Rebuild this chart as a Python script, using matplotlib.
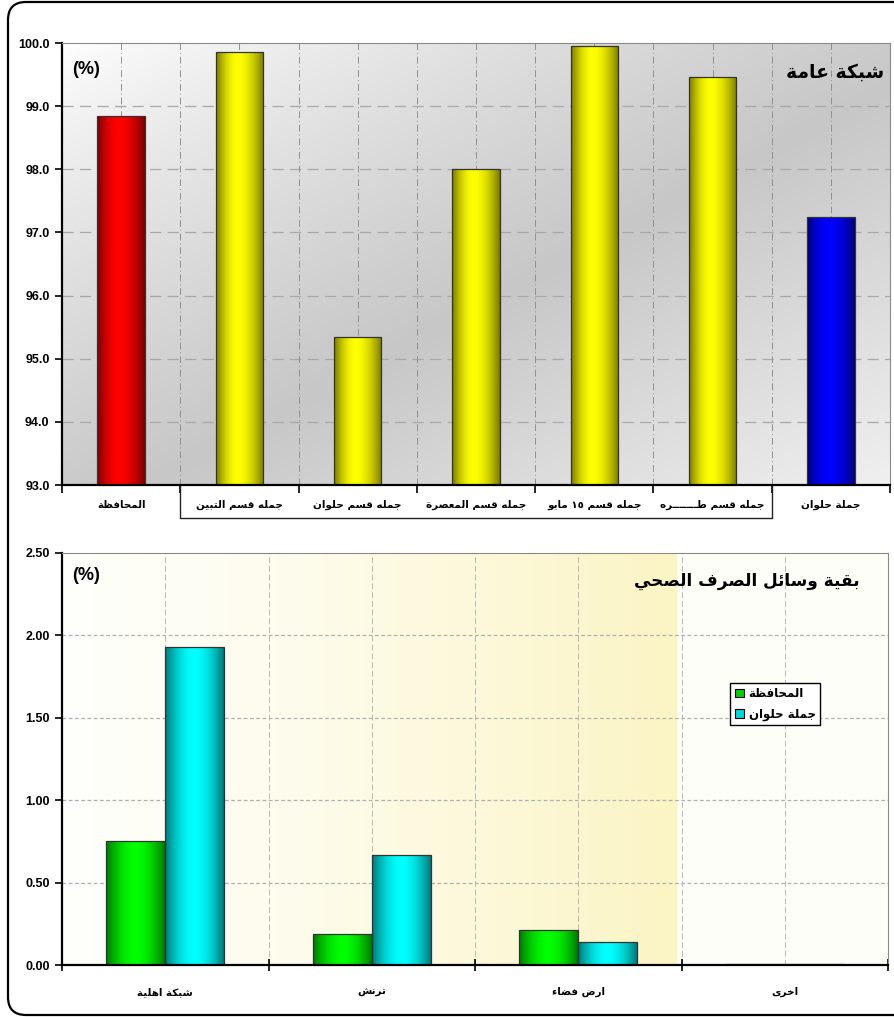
import numpy as np
import matplotlib
matplotlib.use("Agg")
import matplotlib.pyplot as plt
from matplotlib.patches import FancyBboxPatch, Patch
from matplotlib.lines import Line2D
from matplotlib.colors import to_rgb
import matplotlib.transforms as mtransforms

# ---------------- data ----------------
top_categories = ['المحافظة', 'جمله قسم التبين', 'جمله قسم حلوان', 'جمله قسم المعصرة',
                  'جمله قسم ١٥ مايو', 'جمله قسم طـــــــره', 'جملة حلوان']
top_values = [98.84, 99.86, 95.34, 98.00, 99.95, 99.46, 97.24]
top_title = 'شبكة عامة'

bottom_categories = ['شبكة اهلية', 'ترنش', 'ارض فضاء', 'اخرى']
series_names = ['المحافظة', 'جملة حلوان']
gov_values = [0.75, 0.19, 0.21, 0.008]
helwan_values = [1.93, 0.67, 0.14, 0.008]
bottom_title = 'بقية وسائل الصرف الصحي'

# ---------------- Arabic shaping ----------------
_DUAL_BASE = {'ئ': 0xFE89, 'ب': 0xFE8F, 'ت': 0xFE95, 'ث': 0xFE99, 'ج': 0xFE9D, 'ح': 0xFEA1,
              'خ': 0xFEA5, 'س': 0xFEB1, 'ش': 0xFEB5, 'ص': 0xFEB9, 'ض': 0xFEBD, 'ط': 0xFEC1,
              'ظ': 0xFEC5, 'ع': 0xFEC9, 'غ': 0xFECD, 'ف': 0xFED1, 'ق': 0xFED5, 'ك': 0xFED9,
              'ل': 0xFEDD, 'م': 0xFEE1, 'ن': 0xFEE5, 'ه': 0xFEE9, 'ي': 0xFEF1}
_RIGHT_BASE = {'آ': 0xFE81, 'أ': 0xFE83, 'ؤ': 0xFE85, 'إ': 0xFE87, 'ا': 0xFE8D, 'ة': 0xFE93,
               'د': 0xFEA9, 'ذ': 0xFEAB, 'ر': 0xFEAD, 'ز': 0xFEAF, 'و': 0xFEED, 'ى': 0xFEEF}
_LAMALEF = {'آ': 0xFEF5, 'أ': 0xFEF7, 'إ': 0xFEF9, 'ا': 0xFEFB}
TATWEEL = 'ـ'
DIGITS = set('0123456789٠١٢٣٤٥٦٧٨٩')


def shape(s):
    units = []
    i = 0
    while i < len(s):
        c = s[i]
        if c == 'ل' and i + 1 < len(s) and s[i + 1] in _LAMALEF:
            units.append(('LA', s[i + 1]))
            i += 2
        else:
            units.append(c)
            i += 1

    def jt(u):
        if isinstance(u, tuple):
            return 'R'
        if u in _DUAL_BASE or u == TATWEEL:
            return 'D'
        if u in _RIGHT_BASE:
            return 'R'
        return 'U'

    out = []
    n = len(units)
    for k, u in enumerate(units):
        t = jt(u)
        pj = k > 0 and jt(units[k - 1]) == 'D' and t in ('D', 'R')
        nj = t == 'D' and k + 1 < n and jt(units[k + 1]) in ('D', 'R')
        if isinstance(u, tuple):
            out.append(chr(_LAMALEF[u[1]] + (1 if pj else 0)))
        elif u == TATWEEL:
            out.append(u)
        elif u in _DUAL_BASE:
            b = _DUAL_BASE[u]
            if pj and nj:
                out.append(chr(b + 3))
            elif pj:
                out.append(chr(b + 1))
            elif nj:
                out.append(chr(b + 2))
            else:
                out.append(chr(b))
        elif u in _RIGHT_BASE:
            out.append(chr(_RIGHT_BASE[u] + (1 if pj else 0)))
        else:
            out.append(u)
    return ''.join(out)


def ar(s):
    shaped = shape(s)
    runs = []
    for ch in shaped:
        isd = ch in DIGITS
        if runs and runs[-1][0] == isd:
            runs[-1][1].append(ch)
        else:
            runs.append([isd, [ch]])
    res = []
    for isd, chars in reversed(runs):
        res.append(''.join(chars) if isd else ''.join(reversed(chars)))
    return ''.join(res)


# ---------------- style ----------------
plt.rcParams['font.family'] = ['Liberation Sans', 'DejaVu Sans']
plt.rcParams['font.weight'] = 'bold'
AR_FONT = ['DejaVu Sans']


def gradient_bars(ax, bars, dark, bright, peak=0.45):
    d = np.array(to_rgb(dark))
    b = np.array(to_rgb(bright))
    t = np.linspace(0, 1, 64)
    s = 1 - np.clip(np.abs(t - peak) / np.where(t < peak, peak, 1 - peak), 0, 1) ** 1.8
    img = (d[None, :] * (1 - s[:, None]) + b[None, :] * s[:, None])[None, :, :]
    ylo, yhi = ax.get_ylim()
    for bar in bars:
        x0 = bar.get_x()
        w = bar.get_width()
        y0 = max(bar.get_y(), ylo)
        y1 = min(bar.get_y() + bar.get_height(), yhi)
        if y1 <= y0:
            continue
        im = ax.imshow(img, extent=[x0, x0 + w, y0, y1], aspect='auto',
                       interpolation='bilinear', zorder=2.1, origin='lower')
        im.set_clip_path(bar)


fig = plt.figure(figsize=(8.94, 10.17), dpi=100)

# outer rounded frame (pixel coordinates)
frame = FancyBboxPatch((8, 2), 920, 1013, boxstyle='round,pad=0,rounding_size=18',
                       transform=mtransforms.IdentityTransform(), fill=False,
                       edgecolor='black', linewidth=1.6)
fig.patches.append(frame)

# ================= top chart =================
ax1 = fig.add_axes([62 / 894, 1 - 485 / 1017, 828 / 894, 442 / 1017])
ax1.patch.set_alpha(0)
uu, vv = np.meshgrid(np.linspace(0, 1, 200), np.linspace(0, 1, 200))
dd = (uu + vv) / 2  # 0 at top-left, 1 at bottom-right
g = np.where(dd < 0.55, 1.0 - (dd / 0.55) ** 0.8 * 0.22, 0.78 + (dd - 0.55) / 0.45 * 0.16)
bg = np.dstack([g, g, g])
ax1.imshow(bg, extent=[0, 1, 0, 1], transform=ax1.transAxes, aspect='auto',
           zorder=0, origin='upper', interpolation='bilinear')

x1 = np.arange(len(top_categories))
ax1.set_xlim(-0.5, len(top_categories) - 0.5)
ax1.set_ylim(93, 100)
top_colors = ['#ff0000'] + ['#ffff00'] * 5 + ['#0000ff']
bars1 = ax1.bar(x1, top_values, width=0.4, color=top_colors, zorder=2)
gradient_bars(ax1, [bars1[0]], '#7a0000', '#ff0000')
gradient_bars(ax1, list(bars1[1:6]), '#7a7a00', '#ffff00')
gradient_bars(ax1, [bars1[6]], '#00007a', '#0000ff')
ax1.bar(x1, top_values, width=0.4, fill=False, edgecolor='#333333', linewidth=0.9, zorder=2.3)

ax1.set_xlim(-0.5, len(top_categories) - 0.5)
ax1.set_ylim(93, 100)
ax1.set_yticks(np.arange(93, 100.01, 1.0))
ax1.yaxis.set_major_formatter(matplotlib.ticker.FormatStrFormatter('%.1f'))
ax1.set_xticks(np.arange(-0.5, len(top_categories), 1.0))
ax1.set_xticks(x1, minor=True)
ax1.set_xticklabels([], minor=False)
ax1.set_xticklabels([ar(c) for c in top_categories], minor=True, fontsize=7.5,
                    family=AR_FONT, fontweight='bold')
ax1.tick_params(axis='x', which='major', direction='out', length=6, width=1.2, color='black')
ax1.tick_params(axis='x', which='minor', length=0, pad=11)
ax1.tick_params(axis='y', direction='out', length=5, width=1.2, labelsize=9, pad=4)
for lbl in ax1.get_yticklabels():
    lbl.set_fontweight('bold')
for y in np.arange(94, 100, 1.0):
    ax1.axhline(y, color='#a8a8a8', lw=0.9, ls=(0, (9, 5)), zorder=1)
for xv in np.arange(0, len(top_categories) - 0.5, 0.5):
    ax1.axvline(xv, color='#909090', lw=0.7, ls=(0, (7, 3, 1, 3)), zorder=1)
for side in ['left', 'bottom']:
    ax1.spines[side].set_linewidth(1.6)
    ax1.spines[side].set_color('black')
for side in ['top', 'right']:
    ax1.spines[side].set_linewidth(0.8)
    ax1.spines[side].set_color('#8a8a8a')
tr = mtransforms.blended_transform_factory(ax1.transData, ax1.transAxes)
ax1.add_line(Line2D([0.5, 0.5, 5.5, 5.5], [0, -0.075, -0.075, 0], transform=tr,
                    color='#222222', lw=1.0, clip_on=False))
ax1.text(0.012, 0.94, '(%)', transform=ax1.transAxes, fontsize=13, fontweight='bold',
         ha='left', va='center', zorder=5)
ax1.text(0.993, 0.935, ar(top_title), transform=ax1.transAxes, fontsize=13.5,
         fontweight='bold', family=AR_FONT, ha='right', va='center', zorder=5)

# ================= bottom chart =================
ax2 = fig.add_axes([62 / 894, 1 - 965 / 1017, 826 / 894, 412 / 1017])
ax2.patch.set_alpha(0)
u = np.linspace(0, 1, 400)
white = np.array(to_rgb('#fffffb'))
yel = np.array(to_rgb('#fbf4c4'))
s = np.where(u < 0.745, (u / 0.745) ** 1.3, 0.04)
row = white[None, :] * (1 - s[:, None]) + yel[None, :] * s[:, None]
ax2.imshow(row[None, :, :], extent=[0, 1, 0, 1], transform=ax2.transAxes, aspect='auto',
           zorder=0, interpolation='bilinear')

x2 = np.arange(len(bottom_categories))
ax2.set_xlim(-0.5, len(bottom_categories) - 0.5)
ax2.set_ylim(0, 2.5)
bw = 0.285
bars_g = ax2.bar(x2 - bw / 2, gov_values, width=bw, color='#00d000', zorder=2,
                 label=ar(series_names[0]))
bars_c = ax2.bar(x2 + bw / 2, helwan_values, width=bw, color='#00d8d8', zorder=2,
                 label=ar(series_names[1]))
gradient_bars(ax2, list(bars_g), '#007a00', '#00ff00', peak=0.5)
gradient_bars(ax2, list(bars_c), '#007a7a', '#00ffff', peak=0.5)
ax2.bar(x2 - bw / 2, gov_values, width=bw, fill=False, edgecolor='#333333', lw=0.9, zorder=2.3)
ax2.bar(x2 + bw / 2, helwan_values, width=bw, fill=False, edgecolor='#333333', lw=0.9, zorder=2.3)

ax2.set_xlim(-0.5, len(bottom_categories) - 0.5)
ax2.set_ylim(0, 2.5)
ax2.set_yticks(np.arange(0, 2.51, 0.5))
ax2.yaxis.set_major_formatter(matplotlib.ticker.FormatStrFormatter('%.2f'))
ax2.set_xticks(np.arange(-0.5, len(bottom_categories), 1.0))
ax2.set_xticks(x2, minor=True)
ax2.set_xticklabels([], minor=False)
ax2.set_xticklabels([ar(c) for c in bottom_categories], minor=True, fontsize=7.5,
                    family=AR_FONT, fontweight='bold')
ax2.tick_params(axis='x', which='major', direction='inout', length=9, width=1.2, color='black')
ax2.tick_params(axis='x', which='minor', length=0, pad=16)
ax2.tick_params(axis='y', direction='out', length=5, width=1.2, labelsize=9, pad=4)
for lbl in ax2.get_yticklabels():
    lbl.set_fontweight('bold')
for y in np.arange(0.5, 2.5, 0.5):
    ax2.axhline(y, color='#b0b0b0', lw=0.9, ls=(0, (3, 2)), zorder=1)
for xv in np.arange(0, len(bottom_categories) - 0.5, 0.5):
    ax2.axvline(xv, color='#b8b8b8', lw=0.7, ls=(0, (6, 3)), zorder=1)
for side in ['left', 'bottom']:
    ax2.spines[side].set_linewidth(1.6)
    ax2.spines[side].set_color('black')
for side in ['top', 'right']:
    ax2.spines[side].set_linewidth(0.8)
    ax2.spines[side].set_color('#8a8a8a')
ax2.text(0.012, 0.945, '(%)', transform=ax2.transAxes, fontsize=13, fontweight='bold',
         ha='left', va='center', zorder=5)
ax2.text(0.966, 0.933, ar(bottom_title), transform=ax2.transAxes, fontsize=12.2,
         fontweight='bold', family=AR_FONT, ha='right', va='center', zorder=5)

handles = [Patch(facecolor='#00d000', edgecolor='black', lw=0.8),
           Patch(facecolor='#00d8d8', edgecolor='black', lw=0.8)]
leg = ax2.legend(handles, [ar(n) for n in series_names], loc='upper left',
                 bbox_to_anchor=(0.802, 0.70), frameon=True, fancybox=False,
                 edgecolor='black', facecolor='white', framealpha=1,
                 handlelength=0.75, handleheight=0.75, handletextpad=0.4,
                 borderpad=0.4, labelspacing=0.6,
                 prop={'family': AR_FONT, 'weight': 'bold', 'size': 8.5})
leg.get_frame().set_linewidth(1.0)
leg.set_zorder(6)

fig.savefig('out.png', dpi=100)
